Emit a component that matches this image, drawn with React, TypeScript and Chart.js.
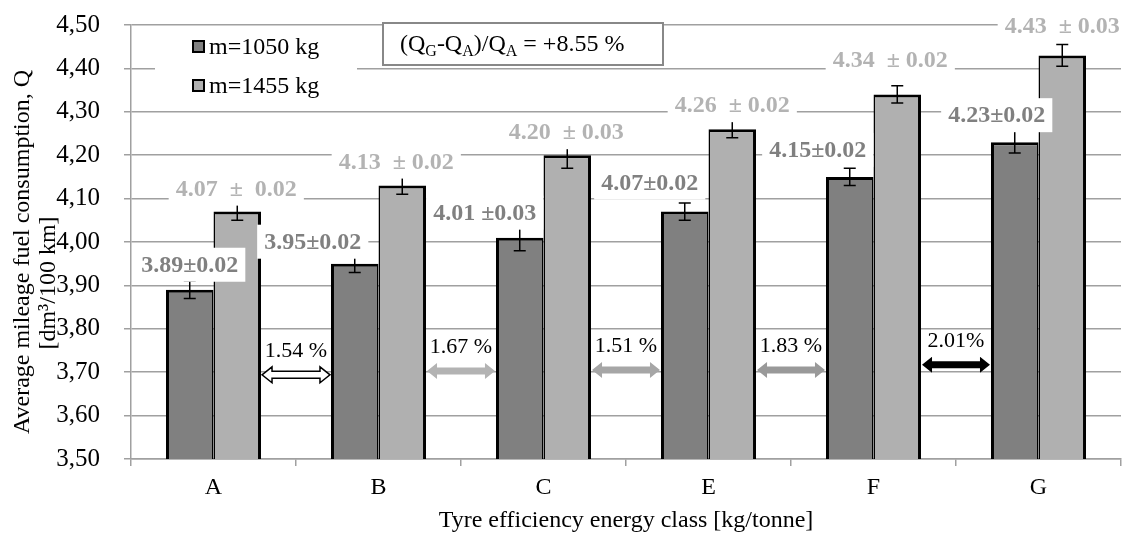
import React, { useEffect, useRef } from 'react';
import { Chart, registerables } from 'chart.js';
Chart.register(...registerables);

const FONT = '"Liberation Serif", "Times New Roman", serif';

const categories = ['A', 'B', 'C', 'E', 'F', 'G'];
const seriesNames = ['m=1050 kg', 'm=1455 kg'];
const values1050 = [3.89, 3.95, 4.01, 4.07, 4.15, 4.23];
const values1455 = [4.07, 4.13, 4.2, 4.26, 4.34, 4.43];
const errors1050 = [0.02, 0.02, 0.03, 0.02, 0.02, 0.025];
const errors1455 = [0.02, 0.02, 0.03, 0.02, 0.02, 0.025];
const labels1050 = ['3.89±0.02', '3.95±0.02', '4.01 ±0.03', '4.07±0.02', '4.15±0.02', '4.23±0.02'];
const labels1455 = ['4.07  ±  0.02', '4.13  ± 0.02', '4.20  ± 0.03', '4.26  ± 0.02', '4.34  ± 0.02', '4.43  ± 0.03'];
const gapTexts = ['1.54 %', '1.67 %', '1.51 %', '1.83 %', '2.01%'];
const gapLevels = [3.694, 3.703, 3.705, 3.705, 3.717];
const yTicksMin = 3.5;
const yTicksMax = 4.5;
const yTickStep = 0.1;
const yTitle = ['Average mileage fuel consumption, Q', '[dm³/100 km]'];
const xTitle = 'Tyre efficiency energy class [kg/tonne]';

// layout / style constants
const DARK = '#808080';
const LIGHT = '#b0b0b0';
const GRID = '#a0a0a0';
const shift1050 = [[0, -25], [-42, -22], [-35, -25], [-35, -29], [-32, -27], [-18, -27]];
const shift1455 = [[-1, -23], [-6, -24], [-1, -23], [0, -24], [-7, -35], [0, -30]];
const arrowStyles = [
  { fill: '#ffffff', stroke: '#000000' },
  { fill: '#b3b3b3', stroke: null },
  { fill: '#a6a6a6', stroke: null },
  { fill: '#999999', stroke: null },
  { fill: '#000000', stroke: null },
];

function drawDoubleArrow(ctx: CanvasRenderingContext2D, x1: number, x2: number, y: number, fill: string, stroke: string | null) {
  const sh = 3.5, hh = 8, hl = 10;
  ctx.beginPath();
  ctx.moveTo(x1, y);
  ctx.lineTo(x1 + hl, y - hh);
  ctx.lineTo(x1 + hl, y - sh);
  ctx.lineTo(x2 - hl, y - sh);
  ctx.lineTo(x2 - hl, y - hh);
  ctx.lineTo(x2, y);
  ctx.lineTo(x2 - hl, y + hh);
  ctx.lineTo(x2 - hl, y + sh);
  ctx.lineTo(x1 + hl, y + sh);
  ctx.lineTo(x1 + hl, y + hh);
  ctx.closePath();
  ctx.fillStyle = fill;
  ctx.fill();
  if (stroke) {
    ctx.strokeStyle = stroke;
    ctx.lineWidth = 1.5;
    ctx.stroke();
  }
}

const overlayPlugin = {
  id: 'overlay',
  afterDatasetsDraw(chart: any) {
    const ctx: CanvasRenderingContext2D = chart.ctx;
    const y = chart.scales.y;
    const m0 = chart.getDatasetMeta(0);
    const m1 = chart.getDatasetMeta(1);
    const errs = [errors1050, errors1455];
    const vals = [values1050, values1455];
    ctx.save();
    // error bars
    [m0, m1].forEach((meta: any, di: number) => {
      meta.data.forEach((bar: any, i: number) => {
        const v = vals[di][i];
        const e = errs[di][i];
        const yt = y.getPixelForValue(v + e);
        const yb = y.getPixelForValue(v - e);
        ctx.strokeStyle = '#000';
        ctx.lineWidth = 1.5;
        ctx.beginPath();
        ctx.moveTo(bar.x, yt);
        ctx.lineTo(bar.x, yb);
        ctx.moveTo(bar.x - 6, yt);
        ctx.lineTo(bar.x + 6, yt);
        ctx.moveTo(bar.x - 6, yb);
        ctx.lineTo(bar.x + 6, yb);
        ctx.stroke();
      });
    });
    // gap arrows
    for (let i = 0; i < gapTexts.length; i++) {
      const left = m1.data[i];
      const right = m0.data[i + 1];
      const x1 = left.x + left.width / 2 + 1;
      const x2 = right.x - right.width / 2 - 1;
      const yy = y.getPixelForValue(gapLevels[i]);
      const st = arrowStyles[i];
      drawDoubleArrow(ctx, x1, x2, yy, st.fill, st.stroke);
      ctx.fillStyle = '#000';
      ctx.font = `22px ${FONT}`;
      ctx.textAlign = 'center';
      ctx.textBaseline = 'middle';
      ctx.fillText(gapTexts[i], (x1 + x2) / 2, yy - 24);
    }
    // value labels
    const drawLabel = (text: string, cx: number, cy: number, color: string) => {
      ctx.font = `bold 24px ${FONT}`;
      const w = ctx.measureText(text).width;
      ctx.fillStyle = '#fff';
      ctx.fillRect(cx - w / 2 - 7, cy - 17, w + 14, 34);
      ctx.fillStyle = color;
      ctx.textAlign = 'center';
      ctx.textBaseline = 'middle';
      ctx.fillText(text, cx, cy + 1);
    };
    m1.data.forEach((bar: any, i: number) => {
      drawLabel(labels1455[i], bar.x + shift1455[i][0], y.getPixelForValue(values1455[i]) + shift1455[i][1], '#b3b3b3');
    });
    m0.data.forEach((bar: any, i: number) => {
      drawLabel(labels1050[i], bar.x + shift1050[i][0], y.getPixelForValue(values1050[i]) + shift1050[i][1], '#808080');
    });
    ctx.restore();
  },
  afterDraw(chart: any) {
    const ctx: CanvasRenderingContext2D = chart.ctx;
    const ca = chart.chartArea;
    ctx.save();
    // legend
    const lx = ca.left + 24, ly = ca.top + 2;
    ctx.fillStyle = '#fff';
    ctx.fillRect(lx, ly, 202, 76);
    const colors = [DARK, LIGHT];
    seriesNames.forEach((name, i) => {
      const cy = ly + 20 + i * 39;
      ctx.fillStyle = '#000';
      ctx.fillRect(lx + 37, cy - 7, 13, 13);
      ctx.fillStyle = colors[i];
      ctx.fillRect(lx + 39, cy - 5, 9, 9);
      ctx.fillStyle = '#000';
      ctx.font = `24px ${FONT}`;
      ctx.textAlign = 'left';
      ctx.textBaseline = 'middle';
      ctx.fillText(name, lx + 54, cy + 1);
    });
    // formula box
    const bx = ca.left + 252, by = ca.top - 2;
    ctx.fillStyle = '#fff';
    ctx.fillRect(bx, by, 280, 42);
    ctx.strokeStyle = '#888';
    ctx.lineWidth = 2;
    ctx.strokeRect(bx, by, 280, 42);
    const parts: [string, boolean][] = [['(Q', false], ['G', true], ['-Q', false], ['A', true], [')/Q', false], ['A', true], [' = +8.55 %', false]];
    let tx = bx + 17;
    const base = by + 28;
    ctx.fillStyle = '#000';
    ctx.textAlign = 'left';
    ctx.textBaseline = 'alphabetic';
    for (const [t, sub] of parts) {
      ctx.font = sub ? `16px ${FONT}` : `24px ${FONT}`;
      ctx.fillText(t, tx, sub ? base + 5 : base);
      tx += ctx.measureText(t).width;
    }
    // axis titles
    ctx.fillStyle = '#000';
    ctx.font = `24px ${FONT}`;
    ctx.textAlign = 'center';
    ctx.textBaseline = 'middle';
    ctx.fillText(xTitle, (ca.left + ca.right) / 2, 521);
    const yc = [[23, 252], [49, 283]];
    yTitle.forEach((t, i) => {
      ctx.save();
      ctx.translate(yc[i][0], yc[i][1]);
      ctx.rotate(-Math.PI / 2);
      ctx.fillText(t, 0, 0);
      ctx.restore();
    });
    ctx.restore();
  },
};

export default function App() {
  const ref = useRef<HTMLCanvasElement>(null);
  useEffect(() => {
    const chart = new Chart(ref.current as HTMLCanvasElement, {
      type: 'bar',
      data: {
        labels: categories,
        datasets: [
          {
            label: seriesNames[0],
            data: values1050,
            backgroundColor: DARK,
            borderColor: '#000',
            borderWidth: { top: 3, left: 3, right: 1.5, bottom: 0 } as any,
            borderSkipped: false,
          },
          {
            label: seriesNames[1],
            data: values1455,
            backgroundColor: LIGHT,
            borderColor: '#000',
            borderWidth: { top: 3, left: 1.5, right: 3, bottom: 0 } as any,
            borderSkipped: false,
          },
        ],
      },
      options: {
        responsive: true,
        maintainAspectRatio: false,
        animation: false,
        layout: { padding: { left: 0, right: 3, top: 25, bottom: 0 } },
        datasets: { bar: { barPercentage: 1, categoryPercentage: 0.576 } },
        plugins: { legend: { display: false }, tooltip: { enabled: false } },
        scales: {
          x: {
            grid: { offset: true, drawOnChartArea: false, tickLength: 7, color: GRID, lineWidth: 1.5 },
            border: { color: GRID, width: 1.5 },
            ticks: { color: '#000', font: { family: FONT, size: 24 }, padding: 7 },
            afterFit: (s: any) => {
              s.height = 74;
              s.paddingLeft = 0;
              s.paddingRight = 0;
            },
          },
          y: {
            min: yTicksMin,
            max: yTicksMax,
            grid: { color: GRID, lineWidth: 1.5, tickLength: 7 },
            border: { color: GRID, width: 1.5 },
            ticks: {
              stepSize: yTickStep,
              color: '#000',
              font: { family: FONT, size: 25 },
              padding: 24,
              callback: (v: any) => Number(v).toFixed(2).replace('.', ','),
            },
            afterFit: (s: any) => {
              s.width = 131;
              s.paddingTop = 0;
              s.paddingBottom = 0;
            },
          },
        },
      },
      plugins: [overlayPlugin],
    });
    return () => chart.destroy();
  }, []);
  return (
    <div style={{ position: 'absolute', left: 0, top: 0, width: 1124, height: 533 }}>
      <canvas ref={ref} />
    </div>
  );
}
